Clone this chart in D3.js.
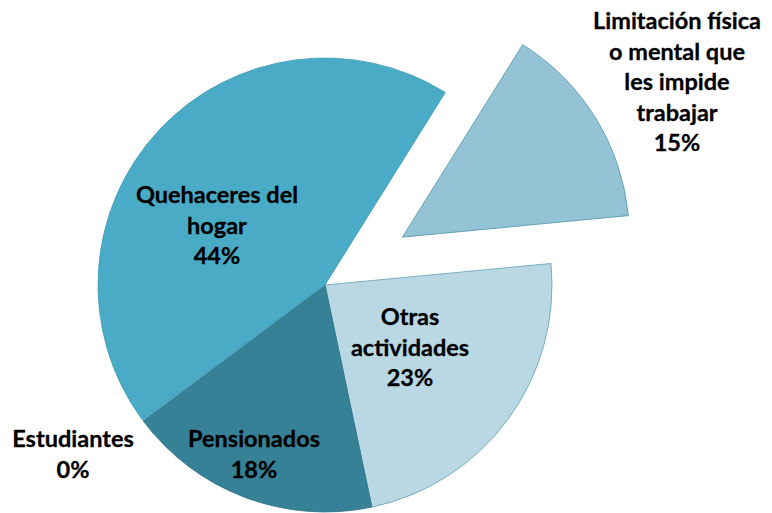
<html lang="es">
<head>
  <meta charset="UTF-8"/>
  <title>Pie chart with D3.js</title>
  <script src="https://d3js.org/d3.v7.min.js"></script>
</head>
<body>
  <div id='container'>
    <svg></svg>
  </div>
</body>
<style>
body {
  margin: 0;
  font-family: 'Lato', sans-serif;
}

div#container {
  width: 772px;
  height: 513px;
  background-color: #fff;
}

svg {
  width: 100%;
  height: 100%;
}

text.label {
  font-size: 23.5px;
  font-weight: 700;
  fill: #000;
  stroke: #000;
  stroke-width: 0.3px;
}
</style>

<script>
    // slices, clockwise from the exploded one
    const categories = ['Limitación física o mental que les impide trabajar', 'Otras actividades', 'Pensionados', 'Estudiantes', 'Quehaceres del hogar'];
    const values = [14.6, 23.2, 18.1, 0.2, 43.9];
    const percentLabels = ['15%', '23%', '18%', '0%', '44%'];
    const labelLines = [
      ['Limitación física', 'o mental que', 'les impide', 'trabajar'],
      ['Otras', 'actividades'],
      ['Pensionados'],
      ['Estudiantes'],
      ['Quehaceres del', 'hogar']
    ];

    const colors = ['#93c3d4', '#bad8e3', '#368196', '#4aabc6', '#4aabc6'];
    const strokes = ['#4f97ad', '#5f9fb3', '#2f7386', '#3f9bb3', '#3f9bb3'];

    // where excel put each label (centre x, first baseline)
    const labelPos = [[677, 29], [410, 325], [254, 447], [73, 447], [217, 203]];
    const lineGap = 30.5;

    const cx = 325, cy = 285, radius = 227;
    const startAngle = 32 * Math.PI / 180;
    const explode = 91;

    const svg = d3.select('svg');
    const chart = svg.append('g')
      .attr('transform', `translate(${cx}, ${cy})`);

    const pie = d3.pie()
      .sort(null)
      .value(d => d)
      .startAngle(startAngle)
      .endAngle(startAngle + 2 * Math.PI);

    const arc = d3.arc()
      .innerRadius(0)
      .outerRadius(radius);

    const arcs = pie(values);

    chart.selectAll('path')
      .data(arcs)
      .enter()
      .append('path')
      .attr('d', arc)
      .attr('fill', (d, i) => colors[i])
      .attr('stroke', (d, i) => strokes[i])
      .attr('stroke-width', (d, i) => i === 3 ? 0 : 0.8)
      .attr('transform', (d, i) => {
        if (i !== 0) return null;
        const a = (d.startAngle + d.endAngle) / 2;
        return `translate(${explode * Math.sin(a)}, ${-explode * Math.cos(a)})`;
      });

    const labels = svg.append('g');

    labelLines.forEach((lines, i) => {
      const t = labels.append('text')
        .attr('class', 'label')
        .attr('text-anchor', 'middle')
        .attr('x', labelPos[i][0])
        .attr('y', labelPos[i][1]);
      lines.concat([percentLabels[i]]).forEach((line, j) => {
        t.append('tspan')
          .attr('x', labelPos[i][0])
          .attr('dy', j === 0 ? 0 : lineGap)
          .text(line);
      });
    });
</script>
</html>
